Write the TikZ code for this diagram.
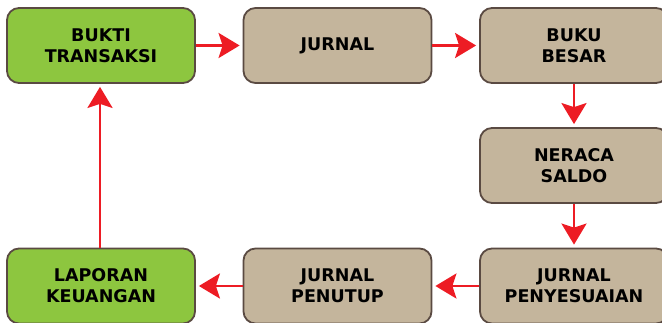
\documentclass[tikz,border=0pt]{standalone}
\usepackage{fontspec}
\setmainfont{DejaVu Sans}
\usetikzlibrary{arrows.meta}
\definecolor{boxgreen}{HTML}{8DC63F}
\definecolor{boxtan}{HTML}{C4B59C}
\definecolor{boxline}{HTML}{5A4A42}
\definecolor{arrred}{HTML}{ED1C24}
\tikzset{
  stepbox/.style={draw=boxline, line width=1.8pt, rounded corners=12pt,
    minimum width=188pt, minimum height=75pt, inner sep=0pt, align=center,
    font=\fontsize{17.5}{21}\selectfont\bfseries, text=black},
  greenbox/.style={stepbox, fill=boxgreen},
  tanbox/.style={stepbox, fill=boxtan},
  arr/.style={draw=arrred, line width=2.6pt,
    -{Stealth[length=21pt, width=25pt, inset=4pt]}, shorten >=3pt}
}
\begin{document}
\begin{tikzpicture}[x=1pt, y=-1pt]
\useasboundingbox (0,0) rectangle (662,323);
\clip (0,0) rectangle (662,323);
\node[greenbox] (bukti) at (101,45.5) {BUKTI\\TRANSAKSI};
\node[tanbox] (jurnal) at (337.5,45.5) {JURNAL};
\node[tanbox] (buku) at (574,45.5) {BUKU\\BESAR};
\node[tanbox] (neraca) at (574,165.5) {NERACA\\SALDO};
\node[tanbox] (penyes) at (574,286) {JURNAL\\PENYESUAIAN};
\node[tanbox] (penutup) at (337.5,286) {JURNAL\\PENUTUP};
\node[greenbox] (laporan) at (101,286) {LAPORAN\\KEUANGAN};
\draw[arr] (bukti) -- (jurnal);
\draw[arr] (jurnal) -- (buku);
\draw[arr] (buku.south -| 574,0) -- (neraca.north -| 574,0);
\draw[arr] (neraca) -- (penyes);
\draw[arr] (penyes) -- (penutup);
\draw[arr] (penutup) -- (laporan);
\draw[arr] (laporan.north -| 100,0) -- (bukti.south -| 100,0);
\end{tikzpicture}
\end{document}
